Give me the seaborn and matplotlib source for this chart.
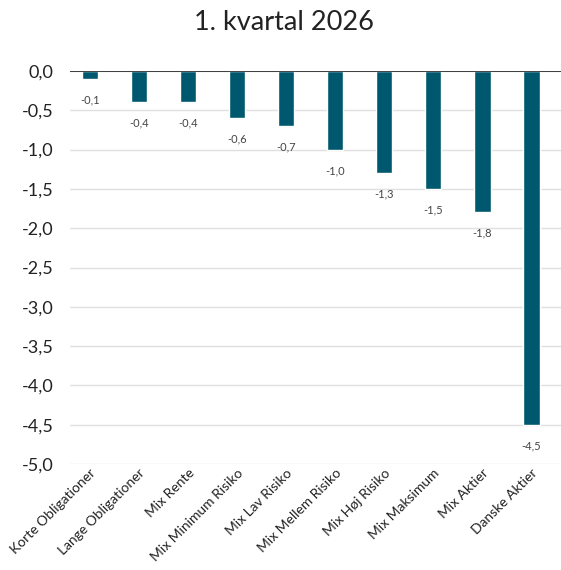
import matplotlib
matplotlib.use("Agg")
import matplotlib.pyplot as plt
import seaborn as sns
import pandas as pd

categories = ["Korte Obligationer", "Lange Obligationer", "Mix Rente", "Mix Minimum Risiko",
              "Mix Lav Risiko", "Mix Mellem Risiko", "Mix Høj Risiko", "Mix Maksimum",
              "Mix Aktier", "Danske Aktier"]
values = [-0.1, -0.4, -0.4, -0.6, -0.7, -1.0, -1.3, -1.5, -1.8, -4.5]
yticks = [0.0, -0.5, -1.0, -1.5, -2.0, -2.5, -3.0, -3.5, -4.0, -4.5, -5.0]
title = "1. kvartal 2026"

sns.set_theme(style="white")
plt.rcParams['font.family'] = ['Lato', 'DejaVu Sans']

df = pd.DataFrame({"cat": categories, "val": values})
fig = plt.figure(figsize=(5.61, 5.70), dpi=100)
ax = fig.add_axes([70/561, 1 - 464/570, 491/561, (464 - 71)/570])
sns.barplot(data=df, x="cat", y="val", color="#00586E", width=0.33, ax=ax, saturation=1)

ax.set_ylim(-5.0, 0.0)
ax.set_xlim(-0.4, 9.6)
ax.set_yticks(yticks)
ax.set_yticklabels([f"{t:.1f}".replace(".", ",") for t in yticks], fontsize=13, color="#222222")
ax.yaxis.grid(True, color="#e0e0e0", linewidth=1)
ax.set_axisbelow(True)
for s in ax.spines.values():
    s.set_visible(False)
ax.axhline(0, color="#222222", linewidth=1.2, zorder=5)
ax.tick_params(axis="y", length=0, pad=12)
ax.tick_params(axis="x", length=0, pad=2)
ax.set_xlabel("")
ax.set_ylabel("")
ax.set_xticks(range(len(categories)))
ax.set_xticklabels(categories, rotation=45, ha="right", rotation_mode="anchor",
                   fontsize=10, color="#222222")

for i, v in enumerate(values):
    ax.annotate(f"{v:.1f}".replace(".", ","), (i, v), xytext=(0, -15), textcoords="offset points",
                ha="center", va="center", fontsize=8, color="#444444")

fig.suptitle(title, x=284/561, y=1 - 22/570, fontsize=19.5, color="#222222", va="center")
fig.savefig("out.png", dpi=100)
